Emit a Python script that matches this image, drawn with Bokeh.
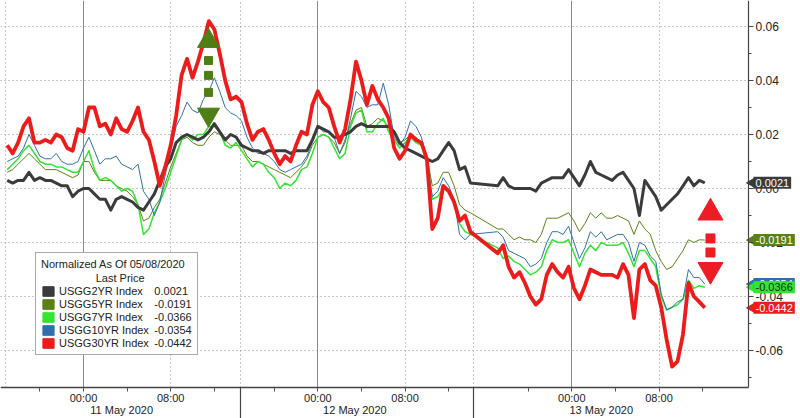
import math
from bokeh.plotting import figure
from bokeh.models import (ColumnDataSource, FixedTicker, LinearAxis, Label,
                          Legend, LegendItem, NumeralTickFormatter, Range1d, Grid,
                          CustomJSTickFormatter)
from bokeh.embed import file_html
from bokeh.resources import INLINE

# ---------------- data (time on a compressed trading-hours scale, 0 = 11 May 00:00) ----
HOURS = [
    -7.0, -6.5, -6.0, -5.5, -5.0, -4.5, -4.0, -3.5, -3.0, -2.5,
    -2.0, -1.5, -1.0, -0.5, 0.0, 0.5, 1.0, 1.5, 2.0, 2.5,
    3.0, 3.5, 4.0, 4.5, 5.0, 5.5, 6.0, 6.5, 7.0, 7.5,
    8.0, 8.5, 9.0, 9.5, 10.0, 10.5, 11.0, 11.5, 12.0, 12.5,
    13.0, 13.5, 14.0, 14.5, 15.0, 15.5, 16.0, 16.5, 17.0, 17.5,
    18.0, 18.5, 19.0, 19.5, 20.0, 20.5, 21.0, 21.5, 22.0, 22.5,
    23.0, 23.5, 24.0, 24.5, 25.0, 25.5, 26.0, 26.5, 27.0, 27.5,
    28.0, 28.5, 29.0, 29.5, 30.0, 30.5, 31.0, 31.5, 32.0, 32.5,
    33.0, 33.5, 34.0, 34.5, 35.0, 35.5,
    38.0, 38.5, 39.0, 39.5, 40.0, 40.5, 41.0, 41.5, 42.0, 42.5,
    43.0, 43.5, 44.0, 44.5, 45.0, 45.5, 46.0, 46.5, 47.0, 47.5,
    48.0, 48.5, 49.0, 49.5, 50.0, 50.5, 51.0, 51.5, 52.0, 52.5,
    53.0, 53.5, 54.0, 54.5, 55.0, 55.5, 56.0, 56.5, 57.0,
]

# normalized yield changes, in basis points (1 bp = 0.01 on the axis)
USGG2YR = [
    0.3, 0.2, 0.3, 0.3, 0.6, 0.3, 0.4, 0.3, 0.3, 0.2,
    0.1, 0.1, -0.3, -0.1, 0.0, 0.0, -0.2, -0.4, -0.4, -0.8,
    -0.4, -0.3, -0.4, -0.5, -0.7, -0.8, -0.5, -0.2, 0.3, 0.8,
    1.1, 1.7, 1.9, 2.0, 1.9, 1.8, 1.9, 2.1, 2.4, 2.1,
    1.8, 2.0, 1.9, 1.6, 1.5, 1.4, 1.4, 1.3, 1.4, 1.4,
    1.4, 1.4, 1.3, 1.4, 1.4, 1.4, 1.8, 2.3, 2.2, 2.1,
    1.9, 1.9, 2.0, 2.1, 2.3, 2.4, 2.3, 2.3, 2.3, 2.3,
    2.3, 2.1, 1.7, 1.5, 1.4, 1.3, 1.2, 1.1, 1.0, 1.1,
    1.4, 1.7, 1.4, 0.7, 0.8, 0.2,
    0.1, 0.4, 0.1, 0.0, 0.0, 0.0, 0.0, -0.1, 0.2, 0.3,
    0.4, 0.4, 0.4, 0.7, 0.4, 0.1, 0.5, 1.0, 0.6, 0.5,
    0.4, 0.3, 0.5, 0.6, 0.3, 0.0, -1.0, 0.3, 0.0, -0.3,
    -0.8, -0.6, -0.4, -0.2, 0.1, 0.4, 0.1, 0.3, 0.21,
]
USGG5YR = [
    0.6, 0.7, 0.9, 1.1, 1.3, 1.1, 0.9, 0.7, 0.7, 0.7,
    0.6, 0.5, 0.4, 0.5, 1.0, 1.0, 0.6, 0.3, 0.3, 0.3,
    0.1, 0.0, -0.1, -0.3, -0.6, -1.2, -1.1, -0.7, -0.4, 0.2,
    0.8, 1.3, 1.8, 1.9, 1.7, 1.6, 1.6, 1.9, 2.1, 2.0,
    1.8, 1.6, 1.6, 1.6, 1.2, 1.0, 1.0, 0.9, 0.8, 0.7,
    0.6, 0.5, 0.4, 0.6, 0.8, 1.1, 1.6, 1.9, 2.0, 1.9,
    1.7, 1.3, 1.8, 2.4, 2.9, 3.0, 2.3, 2.4, 2.6, 2.5,
    2.3, 2.1, 1.7, 1.8, 2.0, 1.9, 1.7, 1.2, 0.1, 0.2,
    0.6, 0.6, 0.1, -0.6, -0.8, -0.9,
    -1.5, -1.5, -1.7, -1.9, -1.8, -1.9, -1.9, -2.0, -1.7, -1.1,
    -1.1, -1.1, -1.0, -0.9, -1.2, -1.6, -1.3, -0.9, -1.1, -0.9,
    -1.1, -1.1, -1.0, -1.1, -1.2, -1.7, -1.2, -1.5, -1.7, -2.3,
    -2.7, -3.0, -2.9, -2.6, -2.3, -1.9, -2.0, -1.9, -1.91,
]
USGG7YR = [
    0.7, 0.9, 1.1, 1.4, 1.6, 1.3, 1.0, 0.9, 0.9, 0.8,
    0.8, 0.7, 0.6, 0.6, 1.0, 1.4, 0.7, 0.3, 0.4, 0.3,
    0.1, -0.1, 0.0, -0.1, -0.6, -1.7, -1.5, -0.9, -0.5, 0.0,
    0.6, 1.2, 1.8, 2.0, 1.8, 2.0, 2.0, 2.3, 2.3, 2.1,
    1.6, 1.5, 1.7, 1.4, 1.1, 0.8, 1.0, 0.9, 0.6, 0.4,
    0.0, 0.2, 0.1, 0.3, 0.7, 0.8, 1.3, 1.9, 2.0, 1.9,
    1.5, 1.1, 1.3, 2.3, 2.8, 2.9, 2.1, 2.1, 2.4, 2.6,
    2.1, 1.8, 1.5, 1.7, 1.9, 1.7, 1.6, 1.1, -0.4, -0.3,
    0.0, -0.1, -0.4, -1.3, -1.6, -1.7,
    -2.2, -2.6, -2.5, -2.7, -2.8, -3.0, -3.2, -3.1, -2.9, -2.3,
    -1.9, -2.0, -2.0, -1.9, -2.4, -2.9, -2.4, -2.1, -2.3, -2.0,
    -2.1, -2.1, -2.1, -2.0, -2.4, -2.9, -2.3, -2.3, -2.6, -2.9,
    -4.0, -4.5, -4.4, -4.3, -4.1, -3.4, -3.7, -3.6, -3.66,
]
USGG10YR = [
    1.0, 1.1, 1.2, 1.5, 2.0, 1.6, 1.2, 1.1, 1.1, 1.3,
    1.0, 0.9, 0.9, 1.0, 1.5, 1.9, 1.4, 0.9, 1.1, 1.1,
    1.2, 0.9, 0.8, 0.7, 0.9, -0.1, -0.4, -1.0, -0.5, 0.5,
    1.4, 2.3, 2.7, 3.2, 2.9, 2.8, 3.3, 3.6, 4.1, 3.6,
    3.0, 2.8, 2.7, 2.5, 1.9, 1.5, 1.3, 1.3, 1.2, 1.0,
    0.7, 0.6, 0.7, 0.8, 0.9, 1.2, 1.7, 2.3, 2.1, 2.1,
    1.9, 1.3, 1.7, 2.6, 3.6, 3.4, 3.0, 3.1, 3.1, 3.9,
    3.1, 1.9, 1.6, 1.9, 2.5, 2.3, 1.9, 1.1, -0.3, -0.1,
    0.4, 0.1, -0.4, -1.7, -1.9, -1.7,
    -1.6, -1.8, -2.3, -2.4, -2.5, -2.6, -2.9, -2.8, -2.6, -2.0,
    -1.6, -1.6, -1.7, -1.4, -2.0, -2.6, -2.2, -1.6, -1.8, -1.6,
    -1.9, -1.8, -1.7, -1.7, -2.0, -2.7, -2.0, -2.1, -2.5, -2.7,
    -3.9, -4.5, -4.4, -4.2, -4.1, -3.0, -3.3, -3.3, -3.54,
]
USGG30YR = [
    1.6, 1.3, 1.7, 2.3, 2.6, 1.7, 1.7, 1.8, 1.7, 2.0,
    1.9, 1.5, 1.4, 2.2, 2.1, 3.0, 3.0, 2.3, 2.4, 2.0,
    2.6, 2.2, 2.1, 2.5, 3.0, 2.1, 1.8, 1.0, 0.1, 0.8,
    1.6, 2.7, 4.2, 4.8, 4.1, 4.7, 5.4, 6.2, 5.9, 5.0,
    4.0, 3.3, 3.4, 3.2, 2.4, 1.8, 2.1, 2.2, 1.8, 1.3,
    0.9, 1.2, 1.0, 1.6, 2.1, 2.0, 3.1, 3.6, 3.2, 3.0,
    2.3, 1.7, 2.2, 3.3, 4.7, 4.0, 3.1, 3.8, 3.3, 3.0,
    2.6, 1.5, 1.1, 1.4, 2.0, 1.8, 1.7, 1.1, -1.5, -1.1,
    0.1, -0.1, -0.5, -1.2, -1.0, -1.6,
    -2.4, -2.1, -2.9, -3.3, -3.1, -3.5, -4.0, -4.3, -4.1, -3.2,
    -2.8, -3.1, -3.3, -2.9, -3.7, -4.1, -3.6, -3.0, -3.1, -3.2,
    -3.2, -3.2, -3.3, -2.8, -3.2, -4.8, -3.0, -2.8, -3.4, -3.6,
    -4.4, -5.6, -6.6, -6.4, -5.4, -3.5, -4.0, -4.2, -4.42,
]

SERIES_NAMES = ["USGG2YR Index", "USGG5YR Index", "USGG7YR Index",
                "USGG10YR Index", "USGG30YR Index"]
SERIES_DATA = [USGG2YR, USGG5YR, USGG7YR, USGG10YR, USGG30YR]
SERIES_COLORS = ["#3b3b3b", "#5a8114", "#33e533", "#2f6fae", "#ee1b1b"]
SERIES_WIDTHS = [3.0, 1.0, 1.5, 1.0, 3.8]
LABEL_TEXT_COLORS = ["white", "white", "#103010", "white", "white"]

# axis ticks (compressed hours) and layout
X_START, X_AXIS, X_END = -7.615, 61.01, 65.78
Y_START, Y_AXIS, Y_END = -0.08519, -0.07370, 0.06963
HOUR_TICKS = [0.0, 8.0, 21.5, 29.5, 44.8, 52.8]
HOUR_LABELS = ["00:00", "08:00", "00:00", "08:00", "00:00", "08:00"]
HOUR_MINOR = [-4.0, 4.0, 12.0, 17.5, 25.5, 33.5, 40.8, 48.8, 56.8]
DAY_STARTS = [0.0, 21.5, 44.8]
EIGHT_AM = [8.0, 29.5, 52.8]
SESSION_BREAKS = [-7.16, 14.4, 35.8]
DAY_CENTERS = [3.5, 24.9, 47.5]
DAY_LABELS = ["11 May 2020", "12 May 2020", "13 May 2020"]
Y_TICKS = [-0.06, -0.04, -0.02, 0.0, 0.02, 0.04, 0.06]
Y_MINOR = [-0.07, -0.05, -0.03, -0.01, 0.01, 0.03, 0.05]
HOUR_LABEL_Y = -0.0775
DAY_LABEL_Y = -0.0820

# decorative arrows and pointers (annotation positions)
GREEN_ARROW_T = 11.47
GREEN_ARROW_UP = 0.0546
GREEN_ARROW_DOTS = [0.0474, 0.0419, 0.0356]
GREEN_ARROW_DOWN = 0.0274
RED_ARROW_T = 57.52
RED_ARROW_UP = -0.0090
RED_ARROW_DOTS = [-0.0185, -0.0237]
RED_ARROW_DOWN = -0.0301
POINTER_T = 61.3

FONT = "Liberation Sans"

# ---------------- figure (frame covers the whole canvas) ----------------
p = figure(width=800, height=418, output_backend="svg", toolbar_location=None,
           x_range=Range1d(X_START, X_END), y_range=Range1d(Y_START, Y_END),
           x_axis_type=None, y_axis_type=None)
p.min_border = 0
p.min_border_left = 0
p.min_border_top = 0
p.min_border_right = 0
p.min_border_bottom = 0
p.outline_line_color = None
p.background_fill_color = "white"
p.border_fill_color = "white"

# grids
p.add_layout(Grid(dimension=1, ticker=FixedTicker(ticks=Y_TICKS),
                  cross_bounds=(X_START, X_AXIS),
                  grid_line_color="#8c8c8c", grid_line_dash="1 3", grid_line_width=1))
p.add_layout(Grid(dimension=0, ticker=FixedTicker(ticks=DAY_STARTS),
                  cross_bounds=(Y_AXIS, Y_END),
                  grid_line_color="#8a8a8a", grid_line_width=1))
p.add_layout(Grid(dimension=0, ticker=FixedTicker(ticks=EIGHT_AM + SESSION_BREAKS),
                  cross_bounds=(Y_AXIS, Y_END),
                  grid_line_color="#8c8c8c", grid_line_dash="1 3", grid_line_width=1))
p.add_layout(Grid(dimension=0, ticker=FixedTicker(ticks=SESSION_BREAKS[1:]),
                  cross_bounds=(Y_START, Y_AXIS),
                  grid_line_color="#444444", grid_line_width=1.2))

# right axis at a fixed position
yax = LinearAxis(fixed_location=X_AXIS, bounds=(Y_AXIS, Y_END),
                 ticker=FixedTicker(ticks=Y_TICKS, minor_ticks=Y_MINOR),
                 formatter=NumeralTickFormatter(format="0.00"))
yax.axis_line_color = "#444444"
yax.axis_line_width = 1.2
yax.major_tick_in = 0
yax.major_tick_out = 5
yax.minor_tick_in = 0
yax.minor_tick_out = 3
yax.major_tick_line_color = "#444444"
yax.minor_tick_line_color = "#444444"
yax.major_label_standoff = 2
yax.major_label_text_font = FONT
yax.major_label_text_font_size = "12px"
yax.major_label_text_color = "#222222"
p.add_layout(yax, "right")

# bottom time axis at a fixed position (line and ticks)
ax1 = LinearAxis(fixed_location=Y_AXIS, bounds=(X_START, X_AXIS),
                 ticker=FixedTicker(ticks=HOUR_TICKS, minor_ticks=HOUR_MINOR),
                 formatter=CustomJSTickFormatter(code="return ''"))
ax1.axis_line_color = "#444444"
ax1.axis_line_width = 1.5
ax1.major_tick_in = 0
ax1.major_tick_out = 4
ax1.minor_tick_in = 0
ax1.minor_tick_out = 4
ax1.major_tick_line_color = "#555555"
ax1.minor_tick_line_color = "#555555"
p.add_layout(ax1, "below")

for t, lab in zip(HOUR_TICKS, HOUR_LABELS):
    p.add_layout(Label(x=t, y=HOUR_LABEL_Y, text=lab, text_align="center",
                       text_baseline="middle", text_font=FONT, text_font_size="11px",
                       text_color="#222222"))
for t, lab in zip(DAY_CENTERS, DAY_LABELS):
    p.add_layout(Label(x=t, y=DAY_LABEL_Y, text=lab, text_align="center",
                       text_baseline="middle", text_font=FONT, text_font_size="11px",
                       text_color="#222222"))

# series lines
src = ColumnDataSource(data={"t": HOURS})
for name, arr in zip(SERIES_NAMES, SERIES_DATA):
    src.data[name] = [v / 100.0 for v in arr]

draw_order = [1, 2, 3, 0, 4]
for i in draw_order:
    p.line(x="t", y=SERIES_NAMES[i], source=src, line_color=SERIES_COLORS[i],
           line_width=SERIES_WIDTHS[i], line_join="round")

# decorative arrows
p.scatter(x=[GREEN_ARROW_T], y=[GREEN_ARROW_UP], marker="triangle", size=22,
          fill_color="#4f7d16", line_color="#4f7d16")
p.scatter(x=[GREEN_ARROW_T] * len(GREEN_ARROW_DOTS), y=GREEN_ARROW_DOTS, marker="square",
          size=8, fill_color="#4f7d16", line_color="#4f7d16")
p.scatter(x=[GREEN_ARROW_T], y=[GREEN_ARROW_DOWN], marker="inverted_triangle", size=22,
          fill_color="#4f7d16", line_color="#4f7d16")
p.scatter(x=[RED_ARROW_T], y=[RED_ARROW_UP], marker="triangle", size=25,
          fill_color="#ee1c25", line_color="#ee1c25")
p.scatter(x=[RED_ARROW_T] * len(RED_ARROW_DOTS), y=RED_ARROW_DOTS, marker="square",
          size=9, fill_color="#ee1c25", line_color="#ee1c25")
p.scatter(x=[RED_ARROW_T], y=[RED_ARROW_DOWN], marker="inverted_triangle", size=25,
          fill_color="#ee1c25", line_color="#ee1c25")

# last-price boxes on the right axis
label_order = [0, 1, 3, 2, 4]
for i in label_order:
    last = SERIES_DATA[i][-1] / 100.0
    p.scatter(x=[POINTER_T], y=[last], marker="triangle", angle=math.pi / 2, size=9,
              fill_color=SERIES_COLORS[i], line_color=SERIES_COLORS[i])
    p.add_layout(Label(x=X_AXIS, y=last, x_offset=5, text=f"{last:.4f}",
                       text_align="left", text_baseline="middle",
                       text_font=FONT, text_font_size="11px",
                       text_color=LABEL_TEXT_COLORS[i],
                       background_fill_color=SERIES_COLORS[i], background_fill_alpha=1.0,
                       padding=2))

# legend (swatch renderers hold no visible data)
nan = float("nan")
items = [LegendItem(label="\u2007" * 6 + "Last Price", renderers=[])]
for name, arr, col in zip(SERIES_NAMES, SERIES_DATA, SERIES_COLORS):
    sw = p.quad(left=[nan], right=[nan], top=[nan], bottom=[nan],
                fill_color=col, line_color=col)
    pad = "\u2007" if len(name) == 13 else ""
    items.append(LegendItem(label=f"{name}{pad}\u2002{arr[-1] / 100.0:.4f}", renderers=[sw]))

legend = Legend(items=items, location=(35, 63), title="Normalized As Of 05/08/2020")
legend.glyph_width = 14
legend.glyph_height = 12
legend.label_height = 12
legend.label_standoff = 4
legend.spacing = 1
legend.padding = 5
legend.margin = 0
legend.border_line_color = "#555555"
legend.border_line_width = 1.5
legend.background_fill_color = "white"
legend.background_fill_alpha = 1.0
legend.label_text_font = FONT
legend.label_text_font_size = "11px"
legend.label_text_color = "#222222"
legend.title_text_font = FONT
legend.title_text_font_size = "11px"
legend.title_text_font_style = "normal"
legend.title_text_color = "#222222"
legend.title_standoff = 2
p.add_layout(legend)

open("out.html", "w").write(file_html(p, INLINE))
